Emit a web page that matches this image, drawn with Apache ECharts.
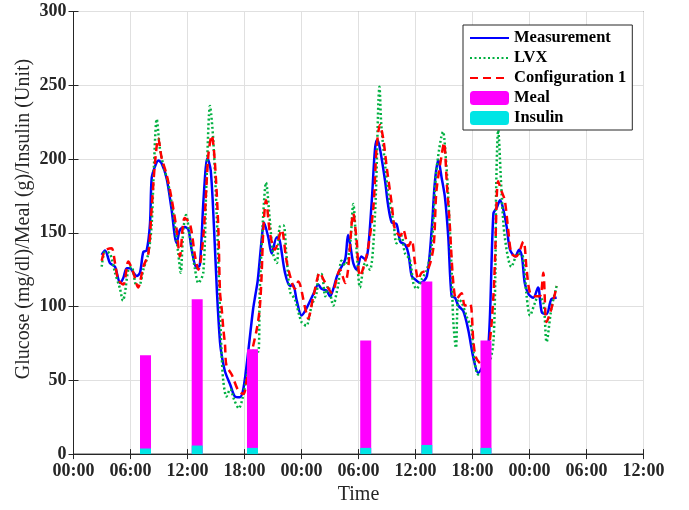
<!DOCTYPE html>
<html><head><meta charset="utf-8">
<script src="https://cdn.jsdelivr.net/npm/echarts@6/dist/echarts.min.js"></script>
<style>html,body{margin:0;padding:0;background:#fff}#c{width:689px;height:510px}</style>
</head><body><div id="c"></div>
<script>
// Time in hours from 00:00 of day 1
const xTickLabels = ['00:00','06:00','12:00','18:00','00:00','06:00','12:00','18:00','00:00','06:00','12:00'];
const yTicks = [0,50,100,150,200,250,300];

const measT = [2.97,3.32,3.84,4.37,4.9,5.25,5.6,5.95,6.3,6.65,7.0,7.35,7.7,8.05,8.23,8.58,8.93,9.28,9.8,10.3,10.86,11.2,11.7,12.1,12.44,12.97,13.3,13.7,14.1,14.45,14.8,15.1,15.42,15.6,15.95,16.5,17.0,17.5,17.9,18.4,18.9,19.15,19.4,19.8,20.05,20.5,20.86,21.4,21.7,22.26,22.8,23.1,23.5,24.0,24.5,25.25,25.77,26.1,26.65,27.0,27.35,27.7,28.05,28.6,28.9,29.1,29.45,29.8,30.3,30.7,31.0,31.4,31.74,31.98,32.26,32.8,33.1,33.5,34.0,34.4,34.9,35.25,35.6,35.95,36.5,37.2,37.7,38.05,38.4,38.76,39.1,39.45,39.8,40.16,40.5,41.03,41.56,42.1,42.6,43.1,43.7,44.2,44.55,44.9,45.2,45.6,45.95,46.5,46.9,47.2,47.5,47.9,48.4,48.9,49.3,49.8,50.3,50.86];
const measV = [135,138,129.5,127,116,119.5,126,126,123,120.7,123,137,138,156,187,195,199,197,187,167,143,152,154,152,138.5,126,128.5,174,200.7,192,152,110,76,67,56,47,39,38.5,45,70,98,108,118,145,157,147,136,147,145,123,114,115,104,94,98.5,108.5,115,112,110.7,107,112,120,125,132,148.5,143,129.5,125,134,132,138.5,172,207,213,207,185,169.5,157,156,144,142,136,120.7,118.5,116,120.7,152,185,199.5,187,174,147,107,106,100.7,97,84,65,55,60,76,163,167,172,167,154,138.5,134,138.5,134,116,108.5,106,113,96,95,105,106];

const lvxT = [2.97,3.32,3.84,4.37,4.9,5.2,5.4,5.77,6.1,6.65,7.0,7.35,7.88,8.23,8.47,8.76,9.1,9.45,9.98,10.5,11.03,11.28,11.56,11.84,12.26,12.8,13.14,13.66,14.0,14.37,14.7,15.07,15.35,15.6,15.77,16.1,16.5,16.9,17.4,17.8,18.3,18.8,19.45,19.6,19.98,20.26,20.7,21.0,21.4,21.7,22.1,22.4,22.8,23.3,24.0,24.5,25.07,25.6,25.77,26.1,26.5,26.8,27.35,27.7,27.9,28.2,28.6,29.1,29.45,29.8,30.16,30.7,31.2,31.74,32.1,32.2,32.4,32.8,33.1,33.7,34.0,34.5,34.9,35.4,35.77,36.1,36.65,37.2,37.7,38.2,38.9,39.2,39.45,39.8,39.98,40.26,40.5,40.85,41.4,41.9,42.1,42.6,43.2,43.8,44.2,44.4,44.5,44.7,45.07,45.4,46.1,46.8,47.3,47.7,48.05,48.6,48.9,49.45,49.8,50.3,50.86];
const lvxV = [127,137,136,123,112,104,108.5,125,127,114,115,125,136,156,196,227,207,196,183,163,136,123,152,162,147,125,116,123,185,236,214,163,110,67,49.5,39,44,37,31,38,55,70,69.5,109.5,163,184,156,136,129.5,154,155,136,110,105,89.5,87,100.7,109.5,121.8,122,107,114,100.7,109.5,116,131,128,141,169.5,138.5,113,129.5,125,163,240,249,223,196,178,156,143,148,136,132,116,112,118.5,125,140.7,192,218.5,200,174,125,90,72,105,103,93,85,69.5,54,55,62,76,120.7,183,219.5,176,147,127,136,134,107,94,103,107,103,76,98.5,114];

const cfgT = [2.97,3.32,4.0,4.37,4.7,5.25,5.77,6.3,6.8,7.35,7.88,8.23,8.58,8.93,9.28,9.8,10.3,10.86,11.2,11.7,12.26,12.8,13.14,13.66,14.2,14.55,14.9,15.25,15.42,15.6,15.77,15.95,16.1,16.65,17.35,17.9,18.2,18.8,19.3,19.6,19.8,19.98,20.26,20.7,21.2,21.9,22.4,22.8,23.3,23.66,24.37,24.7,25.25,25.95,26.3,27.2,28.05,28.6,28.9,29.45,29.8,30.16,30.9,31.56,31.9,32.26,32.6,32.98,33.5,33.85,34.4,34.7,35.25,35.6,35.95,36.3,36.65,37.3,37.9,38.2,38.76,39.0,39.3,39.6,39.98,40.3,40.85,41.2,41.74,42.1,42.4,43.1,43.8,44.2,44.37,44.7,45.07,45.4,45.76,46.1,46.6,47.35,47.7,48.05,48.6,49.1,49.45,49.8,50.3,50.86];
const cfgV = [131,138,139.5,129.5,118.5,115,130.5,123,113,127,136,167,197.5,214,200.7,189.5,174,152,134,160,156,134,125,147,203,216,196,152,110,98.5,85,74,60,54,43,40.7,49,70,85,98.5,121,152,172,149,138.5,152,132,120.7,112,117,99.5,92,107,123,118.5,109.5,125,116,125,163,145,120.7,136,167,207,223,214,194,169.5,152,148,152,141,145,129.5,118.5,123,125,140.7,178,203,211,183,156,116,105,109,100.7,102,76,65,60,76,107,132,185,178,172,152,136,134,144,125,109.5,107,107,123,89.5,98.5,114];

const mealT = [7.58,13.02,18.84,30.76,37.19,43.42];
const mealV = [67,105,71,77,117,77];
const insulinV = [3.8,5.8,4.2,4.2,6.2,4.2];

const zip = (a,b) => a.map((t,i)=>[t,b[i]]);
const axisColor = '#262626';
const serif = '"Liberation Serif","Times New Roman",serif';

const chart = echarts.init(document.getElementById('c'), null, {renderer:'canvas'});
chart.setOption({
  animation:false,
  backgroundColor:'#fff',
  grid:{left:73.5,right:45.5,top:11.5,bottom:49,show:true,borderColor:axisColor,borderWidth:1,backgroundColor:'transparent'},
  legend:{
    orient:'vertical', left:463, top:25,
    padding:[4,6,3,6], itemWidth:39, itemHeight:14, itemGap:2,
    backgroundColor:'#fff', borderColor:axisColor, borderWidth:1,
    textStyle:{fontFamily:serif,fontWeight:'bold',fontSize:16.5,color:'#000',lineHeight:18},
    data:[
      {name:'Measurement',itemStyle:{opacity:0}},
      {name:'LVX',itemStyle:{opacity:0}},
      {name:'Configuration 1',itemStyle:{opacity:0}},
      'Meal','Insulin']
  },
  xAxis:[{
    type:'value', min:0, max:60, interval:6,
    name:'Time', nameLocation:'middle', nameGap:28,
    nameTextStyle:{fontFamily:serif,fontSize:20,color:axisColor},
    axisLine:{show:true,lineStyle:{color:axisColor}},
    axisTick:{show:true,inside:true,length:5,lineStyle:{color:axisColor}},
    axisLabel:{margin:8,fontFamily:serif,fontWeight:'bold',fontSize:18,color:axisColor,
      formatter:v=>xTickLabels[Math.round(v/6)]},
    splitLine:{show:true,lineStyle:{color:'#e0e0e0',width:1}}
  },{
    type:'value', min:0, max:60, interval:6, position:'top',
    axisLine:{show:false}, axisTick:{show:true,inside:true,length:5,lineStyle:{color:axisColor}},
    axisLabel:{show:false}, splitLine:{show:false}
  }],
  yAxis:[{
    type:'value', min:yTicks[0], max:yTicks[yTicks.length-1], interval:50,
    axisLine:{show:true,lineStyle:{color:axisColor}},
    axisTick:{show:true,inside:true,length:5,lineStyle:{color:axisColor}},
    axisLabel:{margin:7,fontFamily:serif,fontWeight:'bold',fontSize:18,color:axisColor},
    splitLine:{show:true,lineStyle:{color:'#e0e0e0',width:1}}
  },{
    type:'value', min:0, max:300, interval:50, position:'right',
    axisLine:{show:false}, axisTick:{show:true,inside:true,length:5,lineStyle:{color:axisColor}},
    axisLabel:{show:false}, splitLine:{show:false}
  }],
  graphic:[{
    type:'text', x:24, y:219, rotation:Math.PI/2,
    style:{text:'Glucose (mg/dl)/Meal (g)/Insulin (Unit)', fontFamily:serif, fontSize:20,
      fill:axisColor, align:'center', verticalAlign:'middle'}
  }],
  series:[
    {name:'Measurement',type:'line',data:zip(measT,measV),symbol:'none',smooth:0.3,z:2,
      lineStyle:{color:'#0000ff',width:2.5},itemStyle:{color:'#0000ff'}},
    {name:'LVX',type:'line',data:zip(lvxT,lvxV),symbol:'none',smooth:0.3,z:2,
      lineStyle:{color:'#00b040',width:2.5,type:[2,2.5]},itemStyle:{color:'#00b040'}},
    {name:'Configuration 1',type:'line',data:zip(cfgT,cfgV),symbol:'none',smooth:0.3,z:2,
      lineStyle:{color:'#ff0000',width:2.5,type:[8,5]},itemStyle:{color:'#ff0000'}},
    {name:'Meal',type:'bar',data:zip(mealT,mealV),barWidth:11,barGap:'-100%',z:3,
      itemStyle:{color:'#ff00ff'}},
    {name:'Insulin',type:'bar',data:zip(mealT,insulinV),barWidth:11,barGap:'-100%',z:4,
      itemStyle:{color:'#00e5e5'}}
  ]
});
</script></body></html>
